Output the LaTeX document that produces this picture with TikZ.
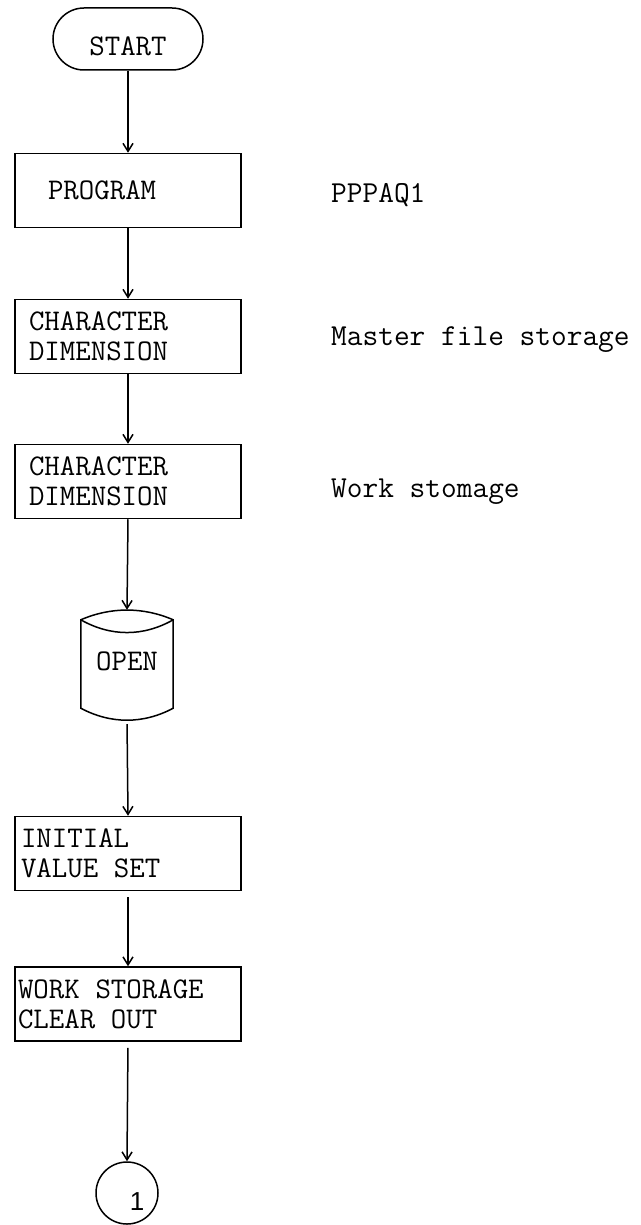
\documentclass[tikz,border=0pt]{standalone}
\usepackage{fontspec}
\newfontfamily\sansone{Liberation Sans}
\usetikzlibrary{arrows.meta}
\newcommand\twsp{\hspace*{0.525em}}
\begin{document}
\begin{tikzpicture}[x=1pt,y=-1pt,
  line/.style={line width=1.5pt},
  arr/.style={line width=1.5pt,-{Straight Barb[length=8pt,width=10pt,line width=1.5pt]}},
  boxtxt/.style={font=\ttfamily\addfontfeatures{FakeBold=1}\fontsize{30}{30}\selectfont},
  box/.style={draw,line width=1.5pt,minimum height=74pt,align=left,inner ysep=0pt,boxtxt},
  lab/.style={anchor=base west,inner sep=0pt,font=\ttfamily\addfontfeatures{FakeBold=0.6}\fontsize{30.5}{30}\selectfont}]
\useasboundingbox (0,0) rectangle (640,1225);

% terminal
\node[draw,line width=1.5pt,rounded corners=31pt,minimum width=150pt,minimum height=62pt,inner sep=0pt,boxtxt] (start) at (128,39) {\rule{0pt}{33pt}START};

% process boxes
\node[box,inner xsep=33pt,text width=160pt] (prog) at (128,190.5) {PROGRAM};
\node[box,inner xsep=14pt,text width=198pt] (dim1) at (128,336.5) {CHARACTER\\DIMENSION};
\node[box,inner xsep=14pt,text width=198pt] (dim2) at (128,481.5) {CHARACTER\\DIMENSION};

% storage cylinder
\node[minimum width=92pt,minimum height=110pt,inner sep=0pt,boxtxt] (open) at (127,665) {\rule[-8pt]{0pt}{8pt}OPEN};
\draw[line] ([yshift=-10pt]open.north west)
  .. controls ([xshift=30pt,yshift=3pt]open.north west) and ([xshift=-30pt,yshift=3pt]open.north east) .. ([yshift=-10pt]open.north east)
  -- ([yshift=12pt]open.south east)
  .. controls ([xshift=-30pt,yshift=-4pt]open.south east) and ([xshift=30pt,yshift=-4pt]open.south west) .. ([yshift=12pt]open.south west)
  -- cycle;
\draw[line] ([yshift=-10pt]open.north west)
  .. controls ([xshift=30pt,yshift=-27pt]open.north west) and ([xshift=-30pt,yshift=-27pt]open.north east) .. ([yshift=-10pt]open.north east);

\node[box,inner xsep=6pt,text width=214pt] (init) at (128,853.5) {INITIAL\\VALUE\twsp SET};
\node[box,inner xsep=3pt,text width=220pt] (work) at (128,1004) {WORK\twsp STORAGE\\CLEAR\twsp OUT};

% connector
\node[draw,circle,line width=1.5pt,minimum size=62pt,inner sep=0pt,font=\sansone\fontsize{26}{26}\selectfont] (c1) at (127,1193) {\hspace*{20pt}1\rule{0pt}{34pt}};

% arrows
\draw[arr] (start) -- (prog);
\draw[arr] (prog) -- (dim1);
\draw[arr] (dim1) -- (dim2);
\draw[arr] (dim2.south) -- (open.north);
\draw[arr,shorten <=4pt] (open.south) -- (init.north);
\draw[arr,shorten <=6pt] (init) -- (work);
\draw[arr,shorten <=6pt] (work.south) -- (c1.north);

% side notes
\node[lab] (pp) at (331,202) {PPPAQ1};
\node[lab] (mf) at (331,345) {Master file storage};
\node[lab] (ws) at (331,497) {Work stomage};
\end{tikzpicture}
\end{document}
